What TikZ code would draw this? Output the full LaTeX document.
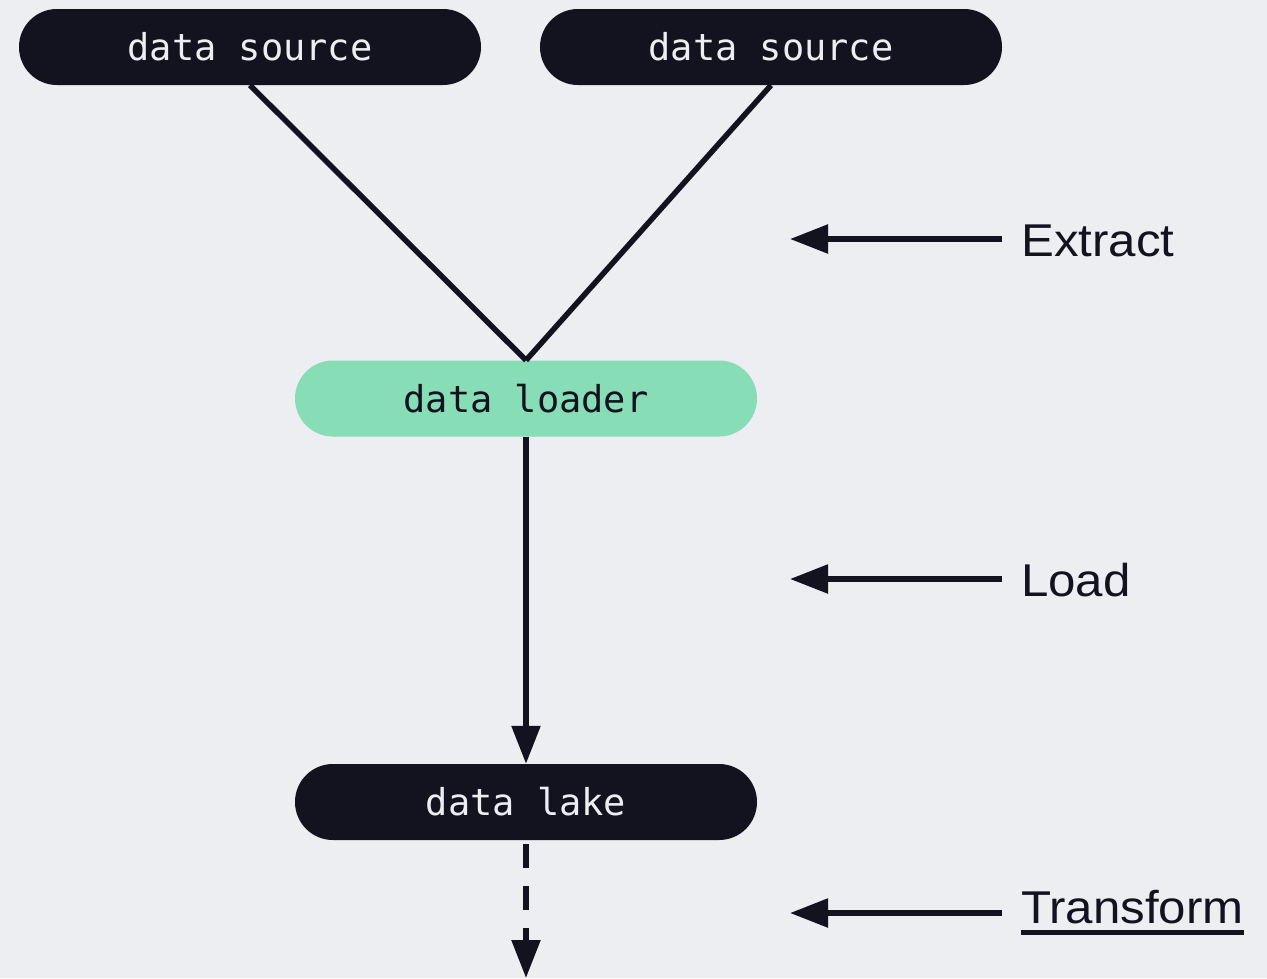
\documentclass[tikz,border=0pt]{standalone}
\usepackage{fontspec}
\setmainfont{Liberation Sans}
\newfontfamily\labelfont[FakeStretch=1.07]{Liberation Sans}
\newfontfamily\boxfont{DejaVu Sans Mono}
\usetikzlibrary{arrows.meta}
\definecolor{bg}{HTML}{EDEEF2}
\definecolor{ink}{HTML}{12131F}
\definecolor{mint}{HTML}{86DDB6}
\tikzset{
  pill/.style={rectangle, rounded corners=37.9pt, minimum width=462pt, minimum height=76pt, inner sep=0pt, font=\boxfont\fontsize{37}{40}\selectfont},
  darkpill/.style={pill, fill=ink, text=bg},
  greenpill/.style={pill, fill=mint, text=ink},
  conn/.style={draw=ink, line width=5.5pt},
  tipped/.style={conn, -{Triangle[length=38pt, width=28pt]}},
  stagelabel/.style={anchor=base west, inner sep=0pt, text=ink, font=\labelfont\fontsize{46}{50}\selectfont}
}
\begin{document}
\begin{tikzpicture}[x=1pt, y=-1pt]
  \fill[bg] (0,0) rectangle (1267,978);
  \useasboundingbox (0,0) rectangle (1267,978);
  \node[darkpill] (src1) at (250,47) {data source};
  \node[darkpill] (src2) at (771,47) {data source};
  \node[greenpill] (loader) at (526,398.5) {data loader};
  \node[darkpill] (lake) at (526,802) {data lake};
  \coordinate (out) at (526,978);
  \draw[conn] (src1.south) -- (loader.north);
  \draw[conn] (src2.south) -- (loader.north);
  \draw[tipped] (loader.south) -- (lake.north);
  \draw[tipped, dash pattern=on 24pt off 18pt, dash phase=38pt] (lake.south) -- (out);
  % stage labels
  \node[stagelabel] (ext) at (1021,256) {Extract};
  \node[stagelabel] (lod) at (1021,596) {Load};
  \node[stagelabel] (trf) at (1021,923) {Transform};
  \coordinate (extA) at (1002,239);
  \coordinate (extB) at (790,239);
  \coordinate (lodA) at (1002,579);
  \coordinate (lodB) at (790,579);
  \coordinate (trfA) at (1002,913);
  \coordinate (trfB) at (790,913);
  \draw[tipped] (extA) -- (extB);
  \draw[tipped] (lodA) -- (lodB);
  \draw[tipped] (trfA) -- (trfB);
  \draw[ink, line width=4.5pt] ([yshift=-9.5pt]trf.base west) -- ([yshift=-9.5pt]trf.base east);
\end{tikzpicture}
\end{document}
